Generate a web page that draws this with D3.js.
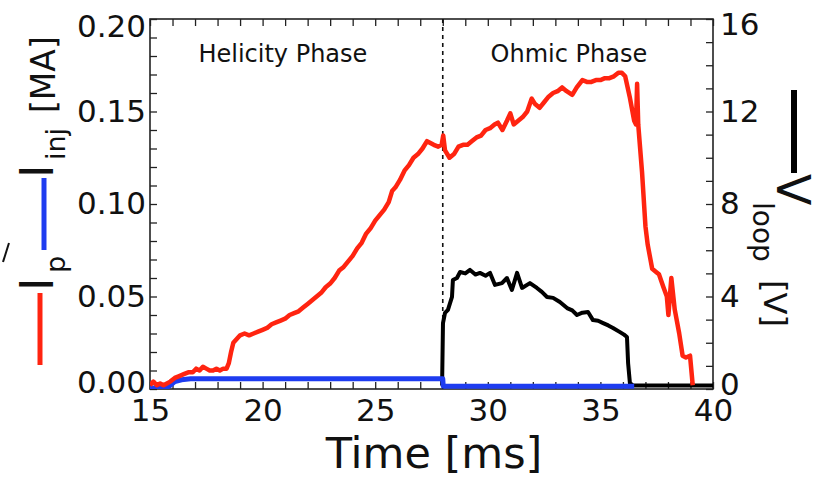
<!DOCTYPE html>
<html>
<head>
<meta charset="utf-8">
<script src="https://cdn.jsdelivr.net/npm/d3@7"></script>
<style>
  html, body { margin: 0; padding: 0; background: #fff; }
  svg { display: block; }
</style>
</head>
<body>
<svg id="chart" width="820" height="491"></svg>
<script>
// ---------------- data ----------------
// Plasma current I_p [MA]
const ipTime = [15.0,15.15,15.3,15.45,15.6,15.75,15.9,16.1,16.3,16.5,16.7,16.9,17.05,17.2,17.35,17.5,17.65,17.8,17.95,18.1,18.25,18.4,18.5,18.6,18.7,18.85,19.0,19.2,19.4,19.6,19.8,20.0,20.2,20.4,20.6,20.8,21.0,21.2,21.4,21.6,21.8,22.0,22.2,22.4,22.6,22.8,23.0,23.2,23.4,23.6,23.8,24.0,24.2,24.4,24.6,24.8,25.0,25.2,25.4,25.6,25.75,25.9,26.1,26.3,26.5,26.7,26.9,27.1,27.3,27.45,27.6,27.8,27.95,28.02,28.1,28.3,28.5,28.7,28.9,29.1,29.3,29.5,29.7,29.9,30.1,30.3,30.45,30.65,30.85,31.0,31.15,31.35,31.55,31.75,31.95,32.1,32.3,32.5,32.7,32.9,33.1,33.3,33.5,33.75,33.95,34.2,34.4,34.6,34.8,35.0,35.2,35.4,35.6,35.8,35.95,36.1,36.3,36.5,36.58,36.63,36.68,36.85,37.0,37.1,37.3,37.5,37.6,37.8,37.95,38.02,38.15,38.3,38.5,38.65,38.8,38.98,39.1];
const ipValue = [0.002,0.004,0.002,0.003,0.002,0.003,0.004,0.006,0.007,0.008,0.009,0.009,0.011,0.010,0.012,0.011,0.010,0.010,0.011,0.010,0.011,0.011,0.014,0.020,0.025,0.027,0.029,0.030,0.029,0.030,0.031,0.032,0.033,0.035,0.036,0.037,0.038,0.040,0.041,0.042,0.044,0.046,0.048,0.050,0.052,0.055,0.057,0.060,0.064,0.066,0.069,0.072,0.076,0.079,0.084,0.087,0.091,0.094,0.097,0.101,0.107,0.109,0.113,0.118,0.121,0.125,0.127,0.130,0.134,0.133,0.132,0.131,0.132,0.137,0.129,0.125,0.127,0.131,0.132,0.132,0.134,0.136,0.137,0.140,0.141,0.143,0.144,0.140,0.145,0.149,0.143,0.145,0.147,0.150,0.157,0.154,0.152,0.155,0.158,0.160,0.161,0.163,0.161,0.159,0.163,0.167,0.166,0.166,0.167,0.167,0.168,0.168,0.169,0.171,0.171,0.169,0.158,0.145,0.143,0.165,0.143,0.117,0.088,0.078,0.065,0.063,0.062,0.055,0.050,0.040,0.060,0.043,0.030,0.018,0.017,0.018,0.002];

// Injector current I_inj [MA]
const injTime  = [15.0,15.7,15.9,16.1,16.4,16.8,17.2,28.0,28.02,36.5];
const injValue = [0.0005,0.0005,0.002,0.004,0.005,0.0055,0.0056,0.0056,0.0015,0.0015];

// Loop voltage V_loop [V]
const vTime  = [27.97,28.01,28.1,28.23,28.41,28.45,28.63,28.77,29.0,29.21,29.45,29.65,29.9,30.1,30.32,30.63,30.85,31.07,31.3,31.52,31.87,32.18,32.4,32.63,32.9,33.2,33.52,33.75,33.96,34.2,34.45,34.67,34.9,35.12,35.35,35.56,35.87,36.05,36.18,36.23,36.31,36.45,40.0];
const vValue = [0.15,2.85,3.29,3.42,3.98,4.71,4.8,5.06,5.0,5.15,4.95,5.02,4.9,5.02,4.5,4.58,4.8,4.28,5.02,4.37,4.58,4.37,4.2,3.98,3.94,3.76,3.5,3.4,3.2,3.3,3.33,2.98,2.95,2.85,2.75,2.64,2.46,2.35,2.25,1.12,0.26,0.15,0.15];

// axis ticks
const xMajorTicks = [15,20,25,30,35,40];
const yLeftMajorTicks = [0.00,0.05,0.10,0.15,0.20];
const yRightMajorTicks = [0,4,8,12,16];
const phaseLabels = ["Helicity Phase","Ohmic Phase"];
const phaseLabelTimes = [20.9,33.6];
const phaseBoundary = 28.0;

// ---------------- layout ----------------
const svg = d3.select("#chart");
const L = 150, R = 713, T = 19, B = 389;
const tickFont = "'DejaVu Sans', sans-serif";

const x = d3.scaleLinear().domain([15,40]).range([L,R]);
const yL = d3.scaleLinear().domain([0,0.20]).range([B,T]);
const yR = d3.scaleLinear().domain([0,16]).range([B,T]);

const red = "#ff2410", blue = "#1e3cf0", black = "#000";

// frame
svg.append("rect").attr("x",L).attr("y",T).attr("width",R-L).attr("height",B-T)
  .attr("fill","none").attr("stroke","#222").attr("stroke-width",1.6);

const xMinor = d3.range(15,40.001,1);
const yLMinor = d3.range(0,0.2001,0.01);
const yRMinor = d3.range(0,16.001,1);

function styleAxis(g){
  g.select(".domain").remove();
  g.selectAll(".tick line").attr("stroke","#222").attr("stroke-width",1.3);
  g.selectAll(".tick text").attr("font-family",tickFont).attr("font-size",31).attr("fill","#111");
}

// bottom
svg.append("g").attr("transform",`translate(0,${B})`)
  .call(d3.axisBottom(x).tickValues(xMinor).tickSize(-7).tickPadding(10)
    .tickFormat(d => xMajorTicks.includes(Math.round(d)) && Math.abs(d-Math.round(d))<1e-6 && Math.round(d)%5===0 ? d3.format("d")(d) : ""))
  .call(styleAxis);
// top
svg.append("g").attr("transform",`translate(0,${T})`)
  .call(d3.axisTop(x).tickValues(xMinor).tickSize(-7).tickFormat(""))
  .call(styleAxis);
// left
const gl = svg.append("g").attr("transform",`translate(${L},0)`)
  .call(d3.axisLeft(yL).tickValues(yLMinor).tickSize(-7).tickPadding(4)
    .tickFormat(d => { const v = Math.round(d*100)/100; return yLeftMajorTicks.some(m=>Math.abs(m-v)<1e-9) && Math.abs(d-v)<1e-9 ? d3.format(".2f")(v) : ""; }))
  .call(styleAxis);
gl.selectAll(".tick text").filter(d => Math.abs(d-0.2)<1e-9).attr("dy","0.55em");
gl.selectAll(".tick text").filter(d => Math.abs(d)<1e-9).attr("dy","0.12em");
// right
const gr = svg.append("g").attr("transform",`translate(${R},0)`)
  .call(d3.axisRight(yR).tickValues(yRMinor).tickSize(-7).tickPadding(7)
    .tickFormat(d => yRightMajorTicks.includes(d) ? d3.format("d")(d) : ""))
  .call(styleAxis);
gr.selectAll(".tick text").filter(d => d===16).attr("dy","0.5em");
gr.selectAll(".tick text").filter(d => d===0).attr("dy","0.18em");

// dashed phase boundary
svg.append("line").attr("x1",x(phaseBoundary)).attr("x2",x(phaseBoundary))
  .attr("y1",T).attr("y2",B).attr("stroke","#111").attr("stroke-width",1.6)
  .attr("stroke-dasharray","4,4");

// phase labels
svg.selectAll(".phase").data(phaseLabels).enter().append("text")
  .attr("x",(d,i)=>x(phaseLabelTimes[i])).attr("y",62)
  .attr("text-anchor","middle").attr("font-family",tickFont).attr("font-size",24)
  .attr("fill","#111").text(d=>d);

// series
const clipId = "plotclip";
svg.append("clipPath").attr("id",clipId).append("rect")
  .attr("x",L).attr("y",T-5).attr("width",R-L).attr("height",B-T+5);
const plot = svg.append("g").attr("clip-path",`url(#${clipId})`);

const lineL = d3.line().x(d=>x(d[0])).y(d=>yL(d[1]));
const lineR = d3.line().x(d=>x(d[0])).y(d=>yR(d[1]));

plot.append("path").datum(vTime.map((t,i)=>[t,vValue[i]]))
  .attr("d",lineR).attr("fill","none").attr("stroke",black).attr("stroke-width",4).attr("stroke-linejoin","round");
plot.append("path").datum(injTime.map((t,i)=>[t,injValue[i]]))
  .attr("d",lineL).attr("fill","none").attr("stroke",blue).attr("stroke-width",5).attr("stroke-linejoin","round");
plot.append("path").datum(ipTime.map((t,i)=>[t,ipValue[i]]))
  .attr("d",lineL).attr("fill","none").attr("stroke",red).attr("stroke-width",4.5).attr("stroke-linejoin","round");

// x title
svg.append("text").attr("x",434).attr("y",468).attr("text-anchor","middle")
  .attr("font-family",tickFont).attr("font-size",43).attr("fill","#111").text("Time [ms]");

// left y title (rotated -90)
const lt = svg.append("g").attr("transform","translate(53,365) rotate(-90)")
  .attr("font-family",tickFont).attr("fill","#111");
lt.append("line").attr("x1",0).attr("x2",72).attr("y1",-13).attr("y2",-13).attr("stroke",red).attr("stroke-width",5);
lt.append("text").attr("x",74).attr("y",0).attr("font-size",46).text("I");
lt.append("text").attr("x",92).attr("y",12).attr("font-size",27).text("p");
lt.append("line").attr("x1",115).attr("x2",187).attr("y1",-9).attr("y2",-9).attr("stroke",blue).attr("stroke-width",5);
lt.append("text").attr("x",187).attr("y",0).attr("font-size",46).text("I");
lt.append("text").attr("x",205).attr("y",12).attr("font-size",27).text("inj");
lt.append("text").attr("x",252).attr("y",2).attr("font-size",33).text("[MA]");

// stray edge mark from the source figure
svg.append("line").attr("x1",9).attr("y1",243).attr("x2",3).attr("y2",262)
  .attr("stroke","#111").attr("stroke-width",2);

// right y title (rotated 90)
const rt = svg.append("g").attr("transform","translate(777,90) rotate(90)")
  .attr("font-family",tickFont).attr("fill","#111");
rt.append("line").attr("x1",0).attr("x2",83).attr("y1",-17).attr("y2",-17).attr("stroke",black).attr("stroke-width",6);
rt.append("text").attr("x",84).attr("y",0).attr("font-size",46).text("V");
rt.append("text").attr("x",112).attr("y",24).attr("font-size",28).text("loop");
rt.append("text").attr("x",190).attr("y",13).attr("font-size",32).text("[V]");
</script>
</body>
</html>
